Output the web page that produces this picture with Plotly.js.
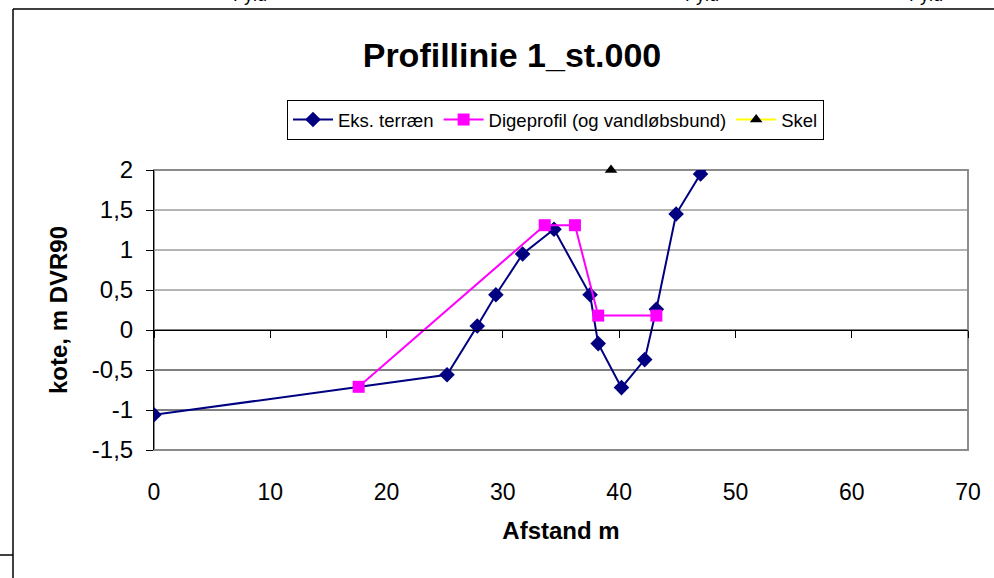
<!DOCTYPE html>
<html>
<head>
<meta charset="utf-8">
<script src="https://cdn.plot.ly/plotly-3.0.1.min.js"></script>
<style>html,body{margin:0;padding:0;background:#fff;}#chart{width:994px;height:578px;}</style>
</head>
<body>
<div id="chart"></div>
<script>
// ---- data ----
const chartTitle = 'Profillinie 1_st.000';
const xTitle = 'Afstand m';
const yTitle = 'kote, m DVR90';
const terraenName = 'Eks. terræn';
const terraenX = [0, 25.2, 27.8, 29.4, 31.7, 34.4, 37.5, 38.2, 40.2, 42.2, 43.2, 44.9, 47.0, 53.5];
const terraenY = [-1.06, -0.56, 0.05, 0.44, 0.95, 1.26, 0.44, -0.17, -0.72, -0.37, 0.26, 1.45, 1.95, 2.8];
const digeName = 'Digeprofil (og vandløbsbund)';
const digeX = [17.6, 33.6, 36.2, 38.2, 43.2];
const digeY = [-0.71, 1.31, 1.31, 0.18, 0.18];
const skelName = 'Skel';
const skelX = [39.3];
const skelY = [2.0];
const xTickVals = [0, 10, 20, 30, 40, 50, 60, 70];
const xTickText = ['0', '10', '20', '30', '40', '50', '60', '70'];
const yTickVals = [-1.5, -1, -0.5, 0, 0.5, 1, 1.5, 2];
const yTickText = ['-1,5', '-1', '-0,5', '0', '0,5', '1', '1,5', '2'];
const topTexts = ['Fyld', 'Fyld', 'Fyld'];

// ---- chart ----
const FONT = 'Arial, "Liberation Sans", sans-serif';
const traces = [
  {x: terraenX, y: terraenY, name: terraenName, type: 'scatter', mode: 'lines+markers',
   line: {color: '#000080', width: 2}, marker: {symbol: 'diamond', size: 12, color: '#000080'}},
  {x: digeX, y: digeY, name: digeName, type: 'scatter', mode: 'lines+markers',
   line: {color: '#FF00FF', width: 2}, marker: {symbol: 'square', size: 12, color: '#FF00FF'}},
  {x: skelX, y: skelY, name: skelName, type: 'scatter', mode: 'lines+markers', cliponaxis: false,
   line: {color: '#FFFF00', width: 2}, marker: {symbol: 'triangle-up', size: 11, color: '#000000'}},
  {x: [], y: [], xaxis: 'x2', showlegend: false, hoverinfo: 'skip', type: 'scatter'}
];

const shapes = [];
// horizontal gridlines
yTickVals.forEach(v => {
  if (v > -1.5 && v < 2) {
    shapes.push({type: 'line', xref: 'paper', yref: 'y', x0: 0, x1: 1, y0: v, y1: v,
      line: {color: v <= 0 ? '#000000' : '#6a6a6a', width: 1}, layer: 'below'});
  }
});
// plot area border
shapes.push({type: 'rect', xref: 'paper', yref: 'paper', x0: 0, x1: 1, y0: 0, y1: 1,
  line: {color: '#8c8c8c', width: 2}, layer: 'below'});
// outer chart frame (px -> paper)
const px = p => (p - 154) / 814;
const py = p => (450 - p) / 280;
shapes.push({type: 'line', xref: 'paper', yref: 'paper', x0: px(13), x1: px(1000), y0: py(9), y1: py(9), line: {color: '#000', width: 1.5}});
shapes.push({type: 'line', xref: 'paper', yref: 'paper', x0: px(13), x1: px(13), y0: py(9), y1: py(590), line: {color: '#000', width: 1.5}});
shapes.push({type: 'line', xref: 'paper', yref: 'paper', x0: px(-5), x1: px(13), y0: py(555), y1: py(555), line: {color: '#000', width: 1.5}});

const topX = [250, 702, 926];
const annotations = topTexts.map((t, i) => ({
  text: t, xref: 'paper', yref: 'paper', x: px(topX[i]), y: py(7), xanchor: 'center', yanchor: 'bottom',
  showarrow: false, font: {family: FONT, size: 18, color: '#000'}
}));

const layout = {
  width: 994, height: 578,
  margin: {l: 154, r: 26, t: 170, b: 128, pad: 0},
  paper_bgcolor: '#ffffff', plot_bgcolor: '#ffffff',
  separators: ',.',
  font: {family: FONT, color: '#000'},
  title: {text: '<b>' + chartTitle + '</b>', font: {family: FONT, size: 34, color: '#000'},
    xref: 'container', yref: 'container', x: 512 / 994, y: 1 - 55 / 578, xanchor: 'center', yanchor: 'middle'},
  showlegend: true,
  legend: {orientation: 'h', x: px(287), y: py(100), xanchor: 'left', yanchor: 'top',
    bordercolor: '#000', borderwidth: 1, bgcolor: '#fff', font: {family: FONT, size: 18.5, color: '#000'},
    traceorder: 'normal', itemwidth: 40},
  xaxis: {range: [0, 70], tickvals: xTickVals, ticktext: xTickText, showgrid: false, zeroline: false, showline: false,
    ticks: 'outside', ticklen: 21, tickcolor: 'rgba(0,0,0,0)', tickfont: {family: FONT, size: 23},
    title: {text: '<b>' + xTitle + '</b>', font: {family: FONT, size: 24}, standoff: 18}},
  xaxis2: {range: [0, 70], tickvals: xTickVals, overlaying: 'x', anchor: 'free', position: 1.5 / 3.5,
    showgrid: false, zeroline: false, showline: true, linecolor: '#000', linewidth: 1,
    ticks: 'outside', ticklen: 7, tickcolor: '#000', showticklabels: false},
  yaxis: {range: [-1.5, 2], tickvals: yTickVals, ticktext: yTickText, showgrid: false, zeroline: false,
    showline: true, linecolor: '#000', linewidth: 1, ticks: 'outside', ticklen: 7, tickcolor: '#000',
    ticklabelstandoff: 8, tickfont: {family: FONT, size: 24},
    title: {text: '<b>' + yTitle + '</b>', font: {family: FONT, size: 24}, standoff: 17}},
  shapes: shapes,
  annotations: annotations
};

Plotly.newPlot('chart', traces, layout, {displayModeBar: false, staticPlot: true});
</script>
</body>
</html>
